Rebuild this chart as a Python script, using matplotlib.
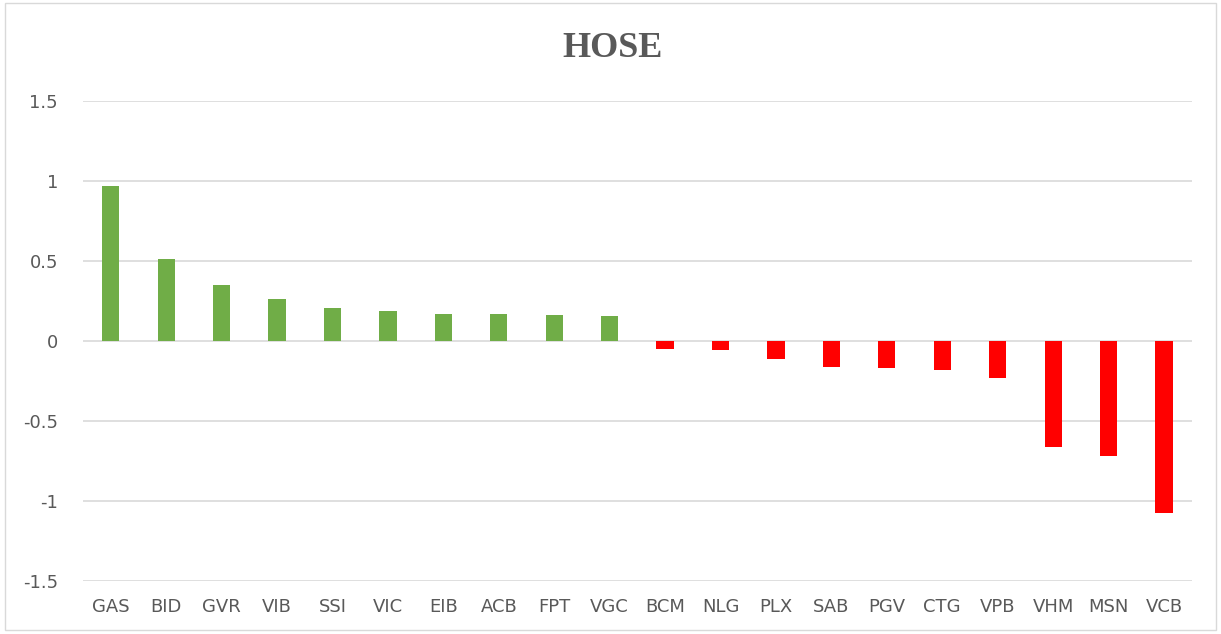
import matplotlib.pyplot as plt

ma_cp = ["GAS", "BID", "GVR", "VIB", "SSI", "VIC", "EIB", "ACB", "FPT", "VGC",
         "BCM", "NLG", "PLX", "SAB", "PGV", "CTG", "VPB", "VHM", "MSN", "VCB"]
diem_anh_huong = [0.969, 0.514, 0.353, 0.265, 0.207, 0.190, 0.171, 0.171, 0.165, 0.159,
                  -0.048, -0.055, -0.111, -0.161, -0.168, -0.180, -0.231, -0.665, -0.721, -1.077]
nhan_truc_y = ["-1.5", "-1", "-0.5", "0", "0.5", "1", "1.5"]
gia_tri_truc_y = [-1.5, -1.0, -0.5, 0, 0.5, 1.0, 1.5]

mau = ['#70ad47' if v >= 0 else '#ff0000' for v in diem_anh_huong]
chu_xam = '#595959'
font_nhan = ['Liberation Sans Narrow', 'DejaVu Sans']

fig = plt.figure(figsize=(12.21, 6.34), dpi=100)
ax = fig.add_axes([0.068, 0.0836, 0.908, 0.7571])

x = list(range(len(ma_cp)))
ax.bar(x, diem_anh_huong, width=0.31, color=mau, zorder=3)

ax.set_xlim(-0.5, len(ma_cp) - 0.5)
ax.set_ylim(-1.5, 1.5)
ax.set_yticks(gia_tri_truc_y)
ax.set_yticklabels(nhan_truc_y, family=font_nhan, fontsize=13, color=chu_xam)
ax.set_xticks(x)
ax.set_xticklabels(ma_cp, family=font_nhan, fontsize=13, color=chu_xam)
ax.tick_params(axis='both', length=0)
ax.tick_params(axis='y', pad=18)
ax.tick_params(axis='x', pad=12)

ax.grid(axis='y', color='#d9d9d9', linewidth=1.2, zorder=0)
for s in ax.spines.values():
    s.set_visible(False)

fig.text(0.502, 0.924, "HOSE", ha='center', va='center', family='Liberation Serif',
         fontweight='bold', fontsize=26, color=chu_xam)

# khung vien bao quanh bieu do
khung = plt.Rectangle((0.004, 0.006), 0.992, 0.99, transform=fig.transFigure,
                      fill=False, edgecolor='#d9d9d9', linewidth=1)
fig.patches.append(khung)

fig.savefig("out.png", dpi=100)
